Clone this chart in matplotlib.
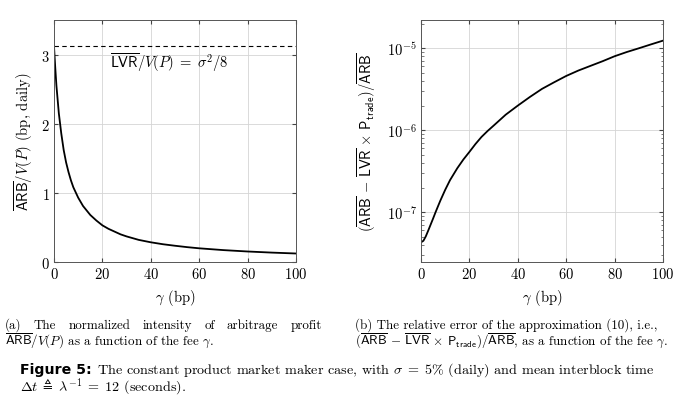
import matplotlib
matplotlib.use("Agg")
import matplotlib.pyplot as plt
import numpy as np

plt.rcParams['font.family'] = ['cmr10', 'DejaVu Serif']
plt.rcParams['mathtext.fontset'] = 'cm'
plt.rcParams['axes.formatter.use_mathtext'] = True
plt.rcParams['axes.unicode_minus'] = False

# (a) normalized arbitrage intensity, bp daily
gamma_a = [0, 0.5, 1, 2, 3, 4, 5, 6, 7, 8, 10, 12, 15, 17.5, 20, 22.5, 25, 27.5, 30, 35, 40,
           45, 50, 55, 60, 70, 80, 90, 100]
arb_a = [3.12, 2.82, 2.55, 2.15, 1.86, 1.62, 1.44, 1.30, 1.18, 1.08, 0.93, 0.81, 0.68, 0.60,
         0.53, 0.48, 0.44, 0.40, 0.37, 0.32, 0.285, 0.257, 0.235, 0.215, 0.198, 0.172, 0.152,
         0.136, 0.123]
lvr_level = 3.125

# (b) relative error of the approximation
gamma_b = [0, 1, 2, 3, 4, 5, 6, 7, 8, 10, 12, 15, 17.5, 20, 22.5, 25, 27.5, 30, 35, 40, 45,
           50, 55, 60, 65, 70, 75, 80, 85, 90, 95, 100]
err_b = [4.3e-8, 4.5e-8, 5.1e-8, 6.0e-8, 7.1e-8, 8.4e-8, 1.0e-7, 1.18e-7, 1.39e-7, 1.88e-7,
         2.47e-7, 3.45e-7, 4.4e-7, 5.45e-7, 6.8e-7, 8.3e-7, 9.8e-7, 1.14e-6, 1.55e-6, 2.0e-6,
         2.55e-6, 3.2e-6, 3.85e-6, 4.6e-6, 5.35e-6, 6.1e-6, 6.95e-6, 8.0e-6, 9.0e-6, 1.0e-5,
         1.115e-5, 1.24e-5]

xticks = [0, 20, 40, 60, 80, 100]

fig = plt.figure(figsize=(6.8, 4.06), dpi=100)
W, H = 680.0, 406.0

def box(x0, x1, ytop, ybot):
    return [x0 / W, 1 - ybot / H, (x1 - x0) / W, (ybot - ytop) / H]

ax1 = fig.add_axes(box(54, 296, 21, 263))
ax2 = fig.add_axes(box(421, 663, 21, 263))

for ax in (ax1, ax2):
    ax.grid(True, color='#d4d4d4', lw=0.6)
    ax.set_axisbelow(True)
    ax.tick_params(direction='in', top=True, right=True, labelsize=10.5, length=3,
                   color='#444444', pad=3)
    for s in ax.spines.values():
        s.set_color('#555555')
        s.set_linewidth(0.7)
    ax.set_xlim(0, 100)
    ax.set_xticks(xticks)
    ax.set_xlabel(r'$\gamma$ (bp)', fontsize=10.5, labelpad=4)

ax1.plot(gamma_a, arb_a, color='black', lw=1.3)
ax1.axhline(lvr_level, color='black', lw=0.8, ls=(0, (4, 3)))
ax1.set_ylim(0, 3.5)
ax1.set_yticks([0, 1, 2, 3])
ax1.text(23, 2.9, r'$\overline{\mathsf{LVR}}/V(P)\;=\;\sigma^2/8$', fontsize=10.5, va='center')
ax1.set_ylabel(r'$\overline{\mathsf{ARB}}/V(P)$ (bp, daily)', fontsize=10.5, labelpad=4)

ax2.plot(gamma_b, err_b, color='black', lw=1.3)
ax2.set_yscale('log')
ax2.set_ylim(10 ** -7.606, 10 ** -4.655)
ax2.set_yticks([1e-7, 1e-6, 1e-5])
ax2.tick_params(which='minor', direction='in', right=True, length=1.8, color='#666666')
ax2.set_ylabel(r'$(\overline{\mathsf{ARB}}\,-\,\overline{\mathsf{LVR}}\,\times\,\mathsf{P}_{\mathsf{trade}})/\overline{\mathsf{ARB}}$',
               fontsize=10.5, labelpad=6)

renderer = fig.canvas.get_renderer()

def justify(pieces, x0, x1, y):
    # spread words across [x0, x1] pixels like a justified paragraph line
    texts = [fig.text(x0 / W, 1 - y / H, s, va='baseline', **kw) for s, kw in pieces]
    widths = [t.get_window_extent(renderer).width for t in texts]
    gap = (x1 - x0 - sum(widths)) / (len(texts) - 1)
    x = x0
    for t, w in zip(texts, widths):
        t.set_x(x / W)
        x += w + gap

cap = dict(fontsize=9.4)
justify([(w, cap) for w in ['(a)', 'The', 'normalized', 'intensity', 'of', 'arbitrage', 'profit']],
        5, 322, 329)
fig.text(5 / W, 1 - 346 / H, r'$\overline{\mathsf{ARB}}/V(P)$ as a function of the fee $\gamma$.',
         va='baseline', **cap)

fig.text(355 / W, 1 - 329 / H, '(b) The relative error of the approximation (10), i.e.,',
         va='baseline', **cap)
fig.text(355 / W, 1 - 346 / H,
         r'$(\overline{\mathsf{ARB}}\,-\,\overline{\mathsf{LVR}}\,\times\,\mathsf{P}_{\mathsf{trade}})/\overline{\mathsf{ARB}}$, as a function of the fee $\gamma$.',
         va='baseline', **cap)

fc = dict(fontsize=10.2)
t = fig.text(20 / W, 1 - 374 / H, 'Figure 5:', va='baseline', family='DejaVu Sans',
             weight='bold', fontsize=10.2)
x_rest = 20 + t.get_window_extent(renderer).width + 5
fig.text(x_rest / W, 1 - 374 / H,
         r'The constant product market maker case, with $\sigma\;=\;5\%$ (daily) and mean interblock time',
         va='baseline', **fc)
fig.text(20 / W, 1 - 391 / H, r'$\Delta t\;\triangleq\;\lambda^{-1}\;=\;12$ (seconds).',
         va='baseline', **fc)

fig.savefig('out.png', dpi=100)
